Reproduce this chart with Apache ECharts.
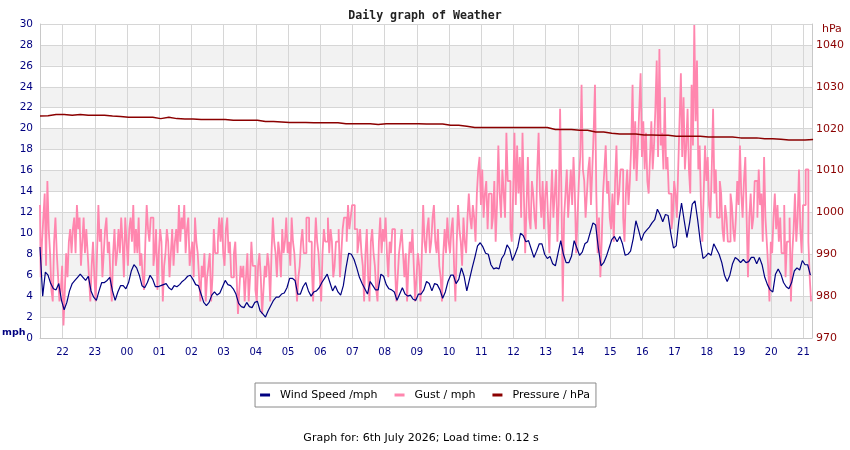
<!DOCTYPE html>
<html><head><meta charset="utf-8">
<script src="https://cdn.jsdelivr.net/npm/echarts@6/dist/echarts.min.js"></script>
<style>html,body{margin:0;padding:0;background:#fff}#c{width:850px;height:450px}</style>
</head><body><div id="c"></div>
<script>
// ---- data ----
const titleText = 'Daily graph of Weather';
const footerText = 'Graph for: 6th July 2026; Load time: 0.12 s';
const seriesNames = ['Wind Speed /mph', 'Gust / mph', 'Pressure / hPa'];
const startTime = new Date(2026, 6, 5, 21, 18).getTime();   // left edge of the plot
const spanMinutes = 1438;                                    // to 21:16 next day
const windStepMin = 5;       // minutes between wind samples
const gustStepMin = 2.5;     // minutes between gust samples
const pressureStepMin = 15;  // minutes between pressure samples

// wind speed, mph, every 5 minutes from 21:18 (one row = one hour)
const windSpeed = [
  8.7,4.0,6.3,6.0,5.2,4.7,4.6,5.2,3.6,2.7,3.4,4.5,
  5.2,5.5,5.8,6.1,5.8,5.5,5.9,4.5,3.9,3.6,4.5,5.3,
  5.3,5.5,5.8,4.5,3.6,4.4,5.0,5.0,4.7,5.3,6.4,7.0,
  6.7,6.0,5.0,4.8,5.3,6.0,5.6,4.9,4.9,5.0,5.1,5.2,
  4.8,4.6,5.0,4.9,5.1,5.4,5.6,5.9,6.0,5.6,5.1,5.0,
  4.2,3.4,3.1,3.4,4.1,4.4,4.1,4.3,4.9,5.5,5.1,5.0,
  4.7,4.2,3.3,3.0,2.9,3.4,3.0,2.9,3.4,3.5,2.6,2.3,
  2.0,2.6,3.1,3.6,3.9,3.9,4.2,4.3,4.8,5.7,5.7,5.5,
  4.2,4.2,4.9,5.3,4.5,4.0,4.4,4.5,4.8,5.3,5.7,6.1,
  5.3,4.5,5.0,4.4,4.1,5.0,6.7,8.1,8.0,7.5,6.7,5.8,
  5.2,4.7,4.2,5.4,5.0,4.6,4.6,6.1,5.9,5.1,4.7,4.6,
  4.4,3.6,4.2,4.8,4.2,4.0,4.1,3.7,3.6,4.2,4.2,4.6,
  5.4,5.2,4.5,5.2,5.1,4.6,3.8,4.4,5.4,6.0,6.0,5.2,
  5.6,6.7,5.9,4.5,5.6,6.7,7.7,8.8,9.1,8.7,8.1,8.0,
  7.0,6.6,6.7,6.6,7.6,8.0,8.9,8.5,7.4,8.0,8.7,10.0,
  9.8,9.2,9.3,8.5,7.7,8.3,9.0,9.0,8.0,7.6,7.8,7.1,
  6.9,8.1,9.3,8.0,7.2,7.2,7.8,9.3,8.6,7.9,8.2,9.0,
  9.2,10.1,11.0,10.8,8.6,6.9,7.2,7.8,8.6,9.4,9.7,9.2,
  9.7,9.0,7.9,8.0,8.3,9.5,11.2,10.3,9.3,10.0,10.3,10.6,
  11.0,11.3,12.3,11.8,11.1,11.8,11.7,10.0,8.6,8.8,11.2,12.9,
  11.2,9.6,11.0,12.8,13.1,11.3,9.2,7.6,7.8,8.1,7.9,9.0,
  8.5,8.0,7.2,6.0,5.4,6.0,7.1,7.7,7.5,7.2,7.5,7.2,
  7.3,7.7,7.7,7.1,7.7,7.0,5.8,5.1,4.6,4.4,6.1,6.6,
  6.1,5.3,4.9,4.7,5.3,6.4,6.7,6.5,7.4,7.0,7.0,6.0
];

// gust, mph, every 2.5 minutes from 21:18 (one row = one hour)
const gust = [
  12.7,5.8,9.2,11.5,13.8,6.9,15.0,10.4,8.1,4.6,3.5,9.2,11.5,8.1,5.8,3.5,4.6,6.9,1.2,4.6,8.1,5.8,9.2,10.4,
  8.1,10.4,11.5,8.1,12.7,10.4,11.5,6.9,9.2,11.5,8.1,10.4,8.1,5.8,3.5,6.9,9.2,5.8,3.5,8.1,12.7,9.2,10.4,5.8,
  8.1,10.4,11.5,8.1,9.2,5.8,3.5,8.1,10.4,6.9,8.1,10.4,8.1,11.5,9.2,5.8,11.5,9.2,6.9,10.4,11.5,9.2,12.7,8.1,
  10.4,8.1,11.5,6.9,8.1,5.8,4.6,9.2,12.7,10.4,9.2,11.5,11.5,6.9,8.1,10.4,4.6,8.1,10.4,9.2,3.5,6.9,8.1,10.4,
  9.2,5.8,8.1,10.4,6.9,9.2,10.4,8.1,12.7,9.2,11.5,10.4,12.7,8.1,10.4,11.5,6.9,8.1,9.2,5.8,11.5,9.2,8.1,5.8,
  3.5,6.9,5.8,8.1,3.5,5.8,6.9,8.1,3.5,5.8,10.4,8.1,8.1,9.2,11.5,9.2,11.5,8.1,6.9,10.4,11.5,8.1,9.2,5.8,
  5.8,8.1,9.2,5.8,2.3,4.6,6.9,5.8,6.9,3.5,5.8,8.1,3.5,5.8,9.2,6.9,6.9,4.6,3.5,6.9,8.1,5.8,2.3,4.6,
  6.9,5.8,8.1,6.9,3.5,8.1,11.5,9.2,8.1,5.8,9.2,8.1,5.8,10.4,8.1,9.2,11.5,8.1,9.2,6.9,11.5,9.2,8.1,5.8,
  3.5,5.8,6.9,9.2,10.4,8.1,8.1,11.5,11.5,9.2,9.2,6.9,3.5,8.1,11.5,9.2,8.1,5.8,3.5,8.1,10.4,9.2,9.2,11.5,
  8.1,10.4,9.2,5.8,6.9,9.2,9.2,10.4,5.8,8.1,10.4,11.5,11.5,9.2,12.7,10.4,11.5,12.7,12.7,10.4,10.4,8.1,9.2,10.4,
  8.1,6.9,3.5,8.1,10.4,5.8,3.5,9.2,10.4,8.1,6.9,4.6,3.5,9.2,11.5,8.1,10.4,9.2,11.5,8.1,5.8,9.2,8.1,10.4,
  10.4,6.9,3.5,5.8,8.1,9.2,10.4,8.1,5.8,8.1,3.5,6.9,9.2,8.1,10.4,6.9,3.5,5.8,8.1,6.9,3.5,8.1,12.7,9.2,
  8.1,10.4,11.5,8.1,9.2,11.5,12.7,9.2,8.1,10.4,6.9,5.8,3.5,8.1,10.4,8.1,11.5,9.2,8.1,10.4,11.5,6.9,3.5,9.2,
  12.7,10.4,9.2,6.9,11.5,9.2,8.1,11.5,13.8,11.5,10.4,12.7,11.5,9.2,13.8,16.1,17.3,12.7,16.1,11.5,13.8,15.0,10.4,13.8,
  13.8,10.4,11.5,15.0,9.2,12.7,18.4,13.8,11.5,16.1,13.8,11.5,19.6,15.0,15.0,10.4,9.2,13.8,19.6,12.7,18.4,13.8,17.3,11.5,
  19.6,13.8,8.1,12.7,17.3,11.5,10.4,15.0,13.8,11.5,10.4,16.1,19.6,13.8,11.5,15.0,10.4,13.8,15.0,11.5,8.1,12.7,16.1,11.5,
  13.8,16.1,9.2,12.7,21.9,13.8,3.5,11.5,13.8,16.1,11.5,13.8,16.1,12.7,17.3,13.8,8.1,11.5,15.0,17.3,24.2,16.1,15.0,11.5,
  13.8,16.1,17.3,12.7,16.1,19.6,24.2,13.8,8.1,11.5,5.8,9.2,13.8,16.1,18.4,13.8,15.0,11.5,10.4,13.8,9.2,15.0,18.4,12.7,
  13.8,16.1,16.1,11.5,9.2,13.8,16.1,12.7,15.0,18.4,24.2,16.1,20.7,15.0,18.4,21.9,25.3,17.3,20.7,16.1,19.6,15.0,13.8,17.3,
  20.7,16.1,18.4,21.9,26.5,17.3,27.6,18.4,19.6,16.1,23.0,16.1,17.3,13.8,13.8,10.4,11.5,15.0,13.8,11.5,16.1,20.7,25.3,17.3,
  23.0,16.1,18.4,21.9,16.1,13.8,24.2,18.4,29.9,20.7,26.5,16.1,18.4,12.7,9.2,13.8,18.4,15.0,17.3,12.7,11.5,16.1,21.9,13.8,
  16.1,11.5,11.5,15.0,13.8,10.4,9.2,12.7,11.5,9.2,9.2,13.8,12.7,10.4,9.2,11.5,15.0,12.7,18.4,13.8,11.5,15.0,17.3,11.5,
  5.8,11.5,13.8,10.4,11.5,15.0,15.0,11.5,16.1,12.7,13.8,9.2,17.3,11.5,9.2,6.9,3.5,9.2,8.1,11.5,13.8,10.4,12.7,9.2,
  11.5,8.1,8.1,12.7,5.8,9.2,9.2,11.5,3.5,8.1,10.4,13.8,9.2,11.5,16.1,10.4,8.1,12.7,12.7,16.1,16.1,9.2,5.8,3.5
];

// pressure, hPa, every 15 minutes from 21:18
const pressure = [
  1023.0,1023.1,1023.4,1023.4,1023.2,1023.4,1023.2,1023.2,1023.2,1023.0,1022.9,1022.7,
  1022.7,1022.7,1022.7,1022.4,1022.7,1022.4,1022.3,1022.3,1022.2,1022.2,1022.2,1022.2,
  1022.0,1022.0,1022.0,1022.0,1021.7,1021.7,1021.6,1021.5,1021.5,1021.5,1021.4,1021.4,
  1021.4,1021.4,1021.2,1021.2,1021.2,1021.2,1021.0,1021.2,1021.2,1021.2,1021.2,1021.2,
  1021.1,1021.1,1021.1,1020.8,1020.8,1020.6,1020.3,1020.3,1020.3,1020.3,1020.3,1020.3,
  1020.3,1020.3,1020.3,1020.3,1019.8,1019.8,1019.8,1019.6,1019.6,1019.2,1019.2,1018.9,
  1018.7,1018.7,1018.7,1018.5,1018.5,1018.4,1018.4,1018.2,1018.2,1018.2,1018.2,1018.0,
  1018.0,1018.0,1018.0,1017.8,1017.8,1017.8,1017.6,1017.6,1017.5,1017.3,1017.3,1017.3,
  1017.4
];

// axis ranges
const mphMin = 0, mphMax = 30, mphStep = 2;
const hpaMin = 970, hpaMax = 1045, hpaStep = 10;

// ---- chart ----
const FONT = 'DejaVu Sans';
const toPairs = (arr, stepMin) => arr.map((v, i) => [startTime + i * stepMin * 60000, v]);
const pad2 = n => (n < 10 ? '0' : '') + n;

const chart = echarts.init(document.getElementById('c'), null, {renderer: 'canvas'});
chart.setOption({
  animation: false,
  backgroundColor: '#ffffff',
  title: {
    text: titleText, left: 'center', top: 5,
    textStyle: {fontFamily: 'DejaVu Sans Mono', fontWeight: 'bold', fontSize: 11.6, color: '#222'}
  },
  legend: {
    data: seriesNames, left: 'center', top: 383, orient: 'horizontal',
    borderColor: '#8a8a8a', borderWidth: 1, padding: [5, 6, 5, 5],
    itemGap: 17, itemWidth: 10, itemHeight: 3, icon: 'rect',
    textStyle: {fontFamily: FONT, fontSize: 11, color: '#000', padding: [0, 0, 0, 5], lineHeight: 14}
  },
  grid: {left: 40, right: 38, top: 24, bottom: 112},
  xAxis: {
    type: 'time', min: startTime, max: startTime + spanMinutes * 60000,
    minInterval: 3600000, maxInterval: 3600000,
    axisLine: {show: true, lineStyle: {color: '#c8c8c8'}},
    axisTick: {show: false},
    splitLine: {show: true, lineStyle: {color: '#d6d6d6', width: 1}},
    axisLabel: {
      color: '#000080', fontFamily: FONT, fontSize: 10, margin: 9, hideOverlap: false,
      formatter: function (v) { const d = new Date(v); return d.getMinutes() === 0 ? pad2(d.getHours()) : ''; }
    }
  },
  yAxis: [
    {
      type: 'value', position: 'left', min: mphMin, max: mphMax, interval: mphStep,
      axisLine: {show: true, lineStyle: {color: '#c8c8c8'}},
      axisTick: {show: false},
      axisLabel: {color: '#000080', fontFamily: FONT, fontSize: 10.5, margin: 7},
      splitLine: {show: true, lineStyle: {color: '#d6d6d6', width: 1}},
      splitArea: {show: true, areaStyle: {color: ['#ffffff', '#f2f2f2']}}
    },
    {
      type: 'value', position: 'right', min: hpaMin, max: hpaMax, interval: hpaStep,
      axisLine: {show: true, lineStyle: {color: '#c8c8c8'}},
      axisTick: {show: false},
      axisLabel: {color: '#8b0000', fontFamily: FONT, fontSize: 11, margin: 4, showMaxLabel: false,
                  formatter: function (v) { return String(v); }},
      splitLine: {show: false}
    }
  ],
  series: [
    {
      name: seriesNames[0], type: 'line', yAxisIndex: 0, data: toPairs(windSpeed, windStepMin),
      showSymbol: false, symbol: 'none', z: 4, color: '#000080',
      itemStyle: {color: '#000080'}, lineStyle: {color: '#000080', width: 1.2}
    },
    {
      name: seriesNames[1], type: 'line', yAxisIndex: 0, data: toPairs(gust, gustStepMin),
      showSymbol: false, symbol: 'none', step: 'middle', z: 2, color: '#ff86ae',
      itemStyle: {color: '#ff86ae'}, lineStyle: {color: '#ff86ae', width: 1.8}
    },
    {
      name: seriesNames[2], type: 'line', yAxisIndex: 1, data: toPairs(pressure, pressureStepMin),
      showSymbol: false, symbol: 'none', z: 5, color: '#8b0000',
      itemStyle: {color: '#8b0000'}, lineStyle: {color: '#8b0000', width: 1.5}
    }
  ],
  graphic: [
    {type: 'text', style: {x: 2, y: 333, text: 'mph', font: 'bold 9.5px "DejaVu Sans"', fill: '#000080', verticalAlign: 'middle'}},
    {type: 'text', style: {x: 822, y: 29, text: 'hPa', font: '11px "DejaVu Sans"', fill: '#8b0000', verticalAlign: 'middle'}},
    {type: 'text', style: {x: 421, y: 438, text: footerText, font: '11px "DejaVu Sans"', fill: '#000', align: 'center', verticalAlign: 'middle'}}
  ]
});
</script></body></html>
